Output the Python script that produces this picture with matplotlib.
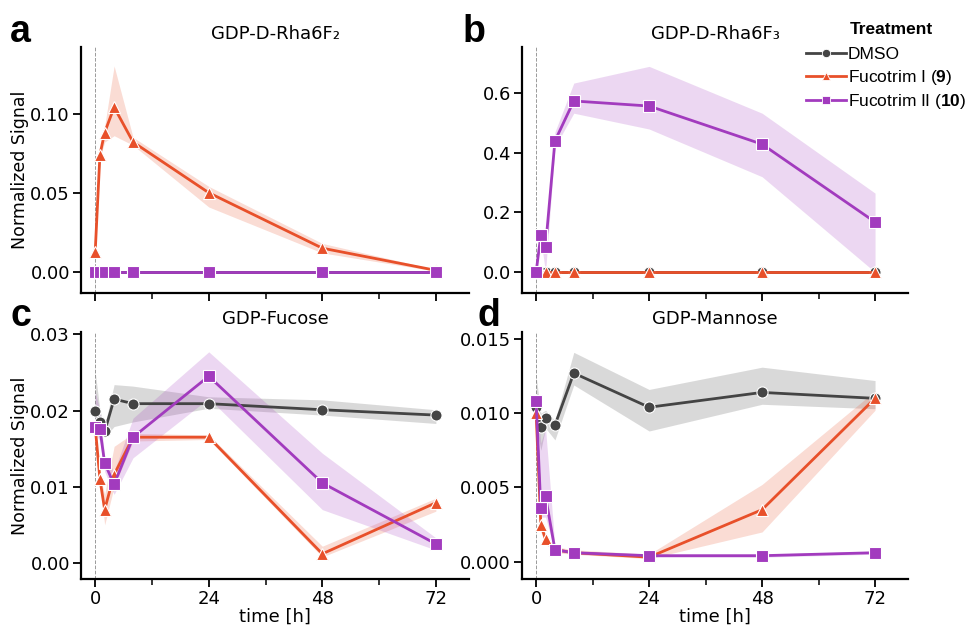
import numpy as np
import matplotlib
matplotlib.use("Agg")
import matplotlib.pyplot as plt
from matplotlib.ticker import MultipleLocator, FormatStrFormatter
from matplotlib.lines import Line2D

plt.rcParams["mathtext.fontset"] = "custom"
plt.rcParams["mathtext.rm"] = "Liberation Sans"
plt.rcParams["mathtext.bf"] = "Liberation Sans:bold"

# ---------------- data ----------------
time_h = [0, 1, 2, 4, 8, 24, 48, 72]
treatments = ["DMSO", "Fucotrim I ($\\mathbf{9}$)", "Fucotrim II ($\\mathbf{10}$)"]
legend_title = "Treatment"
titles = ["GDP-D-Rha6F\u2082", "GDP-D-Rha6F\u2083", "GDP-Fucose", "GDP-Mannose"]
panel_letters = ["a", "b", "c", "d"]

# panel a: GDP-D-Rha6F2
a_dmso = [0, 0, 0, 0, 0, 0, 0, 0]
a_dmso_lo = [0, 0, 0, 0, 0, 0, 0, 0]
a_dmso_hi = [0, 0, 0, 0, 0, 0, 0, 0]
a_f1 = [0.0127, 0.074, 0.088, 0.104, 0.082, 0.050, 0.015, 0.001]
a_f1_lo = [0.011, 0.072, 0.082, 0.086, 0.080, 0.041, 0.012, 0.0005]
a_f1_hi = [0.014, 0.076, 0.092, 0.130, 0.085, 0.054, 0.018, 0.0015]
a_f2 = [0, 0, 0, 0, 0, 0, 0, 0]
a_f2_lo = [0, 0, 0, 0, 0, 0, 0, 0]
a_f2_hi = [0, 0, 0, 0, 0, 0, 0, 0]

# panel b: GDP-D-Rha6F3
b_dmso = [0, 0, 0, 0, 0, 0, 0, 0]
b_dmso_lo = [0, 0, 0, 0, 0, 0, 0, 0]
b_dmso_hi = [0, 0, 0, 0, 0, 0, 0, 0]
b_f1 = [0, 0, 0, 0, 0, 0, 0, 0]
b_f1_lo = [0, 0, 0, 0, 0, 0, 0, 0]
b_f1_hi = [0, 0, 0, 0, 0, 0, 0, 0]
b_f2 = [0.0, 0.124, 0.085, 0.44, 0.574, 0.557, 0.429, 0.168]
b_f2_lo = [0.0, 0.11, 0.0, 0.42, 0.533, 0.48, 0.32, 0.0]
b_f2_hi = [0.0, 0.135, 0.12, 0.47, 0.634, 0.69, 0.533, 0.265]

# panel c: GDP-Fucose
c_dmso = [0.0200, 0.0185, 0.01725, 0.0215, 0.0209, 0.0209, 0.0201, 0.0194]
c_dmso_lo = [0.0170, 0.0170, 0.0165, 0.0179, 0.0185, 0.0203, 0.0194, 0.0183]
c_dmso_hi = [0.0251, 0.0200, 0.0180, 0.0234, 0.0232, 0.0218, 0.0214, 0.0201]
c_f1 = [0.0179, 0.011, 0.007, 0.0116, 0.0165, 0.0165, 0.0012, 0.0079]
c_f1_lo = [0.0175, 0.0105, 0.005, 0.0100, 0.0160, 0.0162, 0.0008, 0.0068]
c_f1_hi = [0.0183, 0.0115, 0.0090, 0.0153, 0.0170, 0.0168, 0.0022, 0.0085]
c_f2 = [0.0179, 0.0176, 0.0131, 0.0103, 0.0165, 0.0245, 0.0105, 0.0025]
c_f2_lo = [0.0170, 0.0160, 0.0120, 0.0090, 0.0138, 0.0216, 0.0070, 0.0017]
c_f2_hi = [0.0225, 0.0200, 0.0140, 0.0120, 0.0190, 0.0277, 0.0144, 0.0033]

# panel d: GDP-Mannose
d_dmso = [0.0104, 0.0091, 0.0097, 0.0092, 0.0127, 0.0104, 0.0114, 0.0110]
d_dmso_lo = [0.0092, 0.0075, 0.0090, 0.0082, 0.0119, 0.0088, 0.0106, 0.0103]
d_dmso_hi = [0.0125, 0.0100, 0.0102, 0.0095, 0.0141, 0.0116, 0.0131, 0.0122]
d_f1 = [0.0100, 0.0025, 0.0015, 0.0008, 0.0006, 0.0003, 0.0035, 0.0110]
d_f1_lo = [0.0095, 0.0020, 0.0012, 0.0006, 0.0005, 0.0002, 0.0020, 0.0102]
d_f1_hi = [0.0105, 0.0030, 0.0018, 0.0010, 0.0008, 0.0005, 0.0052, 0.0115]
d_f2 = [0.0108, 0.0036, 0.0044, 0.0008, 0.0006, 0.0004, 0.0004, 0.0006]
d_f2_lo = [0.0100, 0.0030, 0.0030, 0.0007, 0.0005, 0.0003, 0.0003, 0.0005]
d_f2_hi = [0.0112, 0.0080, 0.0090, 0.0010, 0.0007, 0.0005, 0.0005, 0.0007]

panels = [
    [(a_dmso, a_dmso_lo, a_dmso_hi), (a_f1, a_f1_lo, a_f1_hi), (a_f2, a_f2_lo, a_f2_hi)],
    [(b_dmso, b_dmso_lo, b_dmso_hi), (b_f1, b_f1_lo, b_f1_hi), (b_f2, b_f2_lo, b_f2_hi)],
    [(c_dmso, c_dmso_lo, c_dmso_hi), (c_f1, c_f1_lo, c_f1_hi), (c_f2, c_f2_lo, c_f2_hi)],
    [(d_dmso, d_dmso_lo, d_dmso_hi), (d_f1, d_f1_lo, d_f1_hi), (d_f2, d_f2_lo, d_f2_hi)],
]

# ---------------- style ----------------
colors = ["#444444", "#E8502A", "#A23BBE"]
markers = ["o", "^", "s"]
msizes = [8, 8, 9]
ylims = [(-0.0133, 0.142), (-0.07, 0.755), (-0.0021, 0.0303), (-0.00117, 0.01547)]
ysteps = [0.05, 0.2, 0.01, 0.005]
yfmts = ["%.2f", "%.1f", "%.2f", "%.3f"]

W, H = 971, 627
fig = plt.figure(figsize=(W / 100, H / 100), dpi=100)

boxes = [
    (81, 47, 469, 293),
    (522, 47, 908, 293),
    (81, 332, 469, 579),
    (522, 332, 908, 579),
]

for i, (x0, y0, x1, y1) in enumerate(boxes):
    ax = fig.add_axes([x0 / W, 1 - y1 / H, (x1 - x0) / W, (y1 - y0) / H])
    ax.axvline(0, color="#9a9a9a", lw=0.7, ls="--", zorder=0)
    for k, (m, lo, hi) in enumerate(panels[i]):
        ax.fill_between(time_h, lo, hi, color=colors[k], alpha=0.2, lw=0, zorder=1 + k)
        ax.plot(time_h, m, color=colors[k], lw=2, marker=markers[k], ms=msizes[k],
                mec="white", mew=0.8, zorder=5 + k)
    ax.set_xlim(-3, 79)
    ax.set_ylim(*ylims[i])
    ax.xaxis.set_major_locator(MultipleLocator(24))
    ax.xaxis.set_minor_locator(MultipleLocator(12))
    ax.yaxis.set_major_locator(MultipleLocator(ysteps[i]))
    ax.yaxis.set_major_formatter(FormatStrFormatter(yfmts[i]))
    for s in ["top", "right"]:
        ax.spines[s].set_visible(False)
    for s in ["left", "bottom"]:
        ax.spines[s].set_linewidth(1.6)
    ax.tick_params(axis="both", which="major", length=6, width=1.3, labelsize=13, colors="black",
                   pad=2)
    ax.tick_params(axis="x", which="minor", length=4, width=1.1)
    ax.set_title(titles[i], fontsize=13, pad=6)
    if i < 2:
        ax.tick_params(axis="x", labelbottom=False)
    else:
        ax.set_xlabel("time [h]", fontsize=13, labelpad=0)
    if i % 2 == 0:
        ax.set_ylabel("Normalized Signal", fontsize=12.5, labelpad=1)

letter_pos = [(10, 42), (463, 42), (10, 326), (477, 326)]
for L, (lx, ly) in zip(panel_letters, letter_pos):
    fig.text(lx / W, 1 - ly / H, L, fontsize=27, fontweight="bold",
             family=["Liberation Sans", "DejaVu Sans"], va="baseline")

handles = [Line2D([0], [0], color=colors[k], lw=2, marker=markers[k], ms=6, mec="white", mew=0.6)
           for k in range(3)]
leg = fig.legend(handles, treatments, loc="upper left", bbox_to_anchor=(806 / W, 1 - 47 / H),
                 frameon=False, handlelength=2.3, handletextpad=0.1,
                 labelspacing=0.32, borderaxespad=0, borderpad=0,
                 prop={"family": ["Liberation Sans", "DejaVu Sans"], "size": 12.5})
fig.text(891 / W, 1 - 29 / H, legend_title, fontsize=12.5, fontweight="bold",
         family=["Liberation Sans", "DejaVu Sans"], ha="center", va="center")

fig.savefig("out.png", dpi=100)
